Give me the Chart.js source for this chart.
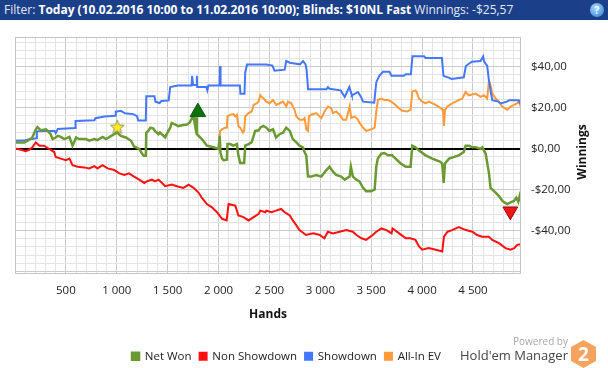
<!DOCTYPE html>
<html lang="en">
<head>
<meta charset="UTF-8" />
<title>Winnings graph</title>
<script src="https://cdn.jsdelivr.net/npm/chart.js@4.4.1/dist/chart.umd.min.js"></script>
<style>
  html, body { margin: 0; padding: 0; background: #fff; overflow: hidden; }
  body { width: 608px; height: 368px; position: relative; font-family: 'Open Sans', sans-serif; }
  #filter { position: absolute; left: 0; top: 0; width: 608px; height: 20px; background: #1c3f8a; color: #fff;
            font-size: 12px; line-height: 20px; white-space: nowrap; }
  #filter .txt { position: absolute; left: 4px; top: 0; }
  #filter .lbl { color: #e4eaf4; }
  #help { position: absolute; right: 4px; top: 3px; width: 14px; height: 14px; border-radius: 50%;
          background: radial-gradient(circle at 40% 35%, #a8d8ff, #2c7ad2); color: #fff; font-size: 10px;
          font-weight: bold; line-height: 14px; text-align: center; }
  #wrap { position: absolute; left: 0; top: 20px; width: 608px; height: 348px; }
  #powered { position: absolute; left: 470px; top: 334px; width: 98px; text-align: right; font-size: 10px; color: #a8a8a8; }
  #hem { position: absolute; left: 440px; top: 346px; width: 128px; text-align: right; font-size: 13px; color: #444; }
  #hex { position: absolute; left: 571px; top: 340px; }
</style>
</head>
<body>
  <div id="filter">
    <span class="txt"><span class="lbl">Filter: </span><b>Today (10.02.2016 10:00 to 11.02.2016 10:00); Blinds: $10NL Fast</b> <span class="lbl">Winnings: -$25,57</span></span>
    <div id="help">?</div>
  </div>
  <div id="wrap"><canvas id="chart" width="608" height="348"></canvas></div>
  <div id="powered">Powered by</div>
  <div id="hem">Hold'em Manager</div>
  <svg id="hex" width="25" height="28" viewBox="0 0 25 28">
    <polygon points="12.5,0 25,7 25,21 12.5,28 0,21 0,7" fill="#f5a35e"/>
    <text x="12.5" y="21" text-anchor="middle" font-family="'Open Sans', sans-serif" font-weight="bold" font-size="19" fill="#fff">2</text>
  </svg>

<script>
// [hand, $] pairs
const netWon = [[0,3.0],[90,3.0],[125,3.8],[170,5.4],[205,9.4],[220,10.5],[255,8.9],[305,9.4],[320,8.6],[350,7.0],[370,4.6],[400,5.4],[420,6.2],[450,5.7],[485,4.6],[535,5.7],[565,1.4],[580,3.0],[600,5.4],[630,4.6],[695,4.6],[730,3.8],[780,4.6],[810,4.1],[860,5.7],[895,4.6],[975,7.0],[1005,7.8],[1040,6.2],[1090,5.4],[1140,3.8],[1170,1.0],[1220,-0.2],[1250,-2.5],[1265,-3.5],[1285,-3.5],[1290,7.8],[1310,8.6],[1330,10.2],[1360,9.8],[1375,8.6],[1410,7.0],[1425,7.8],[1475,5.4],[1490,7.0],[1525,10.2],[1540,12.5],[1575,11.7],[1605,10.9],[1640,11.4],[1690,11.7],[1720,13.0],[1740,15.0],[1755,15.2],[1770,11.0],[1780,15.2],[1787,7.0],[1820,5.4],[1850,3.8],[1885,1.4],[1920,1.0],[1950,0.6],[2000,-0.2],[2012,6.2],[2018,-1.7],[2035,-4.9],[2050,-5.7],[2082,-5.4],[2088,2.2],[2115,2.2],[2145,1.4],[2180,2.2],[2195,-3.3],[2213,-7.0],[2252,-7.0],[2262,1.4],[2295,2.2],[2325,3.0],[2360,8.6],[2395,8.9],[2410,10.2],[2440,11.0],[2470,10.2],[2500,8.6],[2535,9.4],[2565,5.4],[2600,7.0],[2635,7.8],[2665,10.2],[2700,8.6],[2730,4.6],[2765,3.0],[2795,1.4],[2830,0.6],[2845,-1.7],[2862,-3.3],[2879,-13.7],[2910,-13.7],[2960,-12.9],[3010,-13.7],[3060,-10.5],[3090,-8.9],[3125,-11.3],[3155,-12.9],[3205,-13.7],[3240,-15.2],[3288,-13.7],[3300,-8.9],[3320,-13.7],[3355,-15.2],[3385,-16.0],[3420,-19.2],[3450,-20.8],[3500,-20.8],[3534,-20.0],[3550,-8.9],[3565,-4.9],[3600,-2.5],[3630,-2.2],[3665,-3.3],[3705,-3.3],[3740,-4.9],[3790,-7.3],[3840,-8.9],[3887,-8.9],[3904,1.4],[3935,0.6],[3970,-1.0],[4035,-3.3],[4100,-4.9],[4180,-6.5],[4198,-7.3],[4212,-16.8],[4225,-7.3],[4265,-4.9],[4315,-4.1],[4360,-3.3],[4410,-1.7],[4428,1.4],[4460,1.4],[4495,0.6],[4525,0.6],[4575,-0.2],[4592,0.6],[4625,-2.5],[4657,-12.0],[4673,-19.2],[4725,-21.6],[4755,-23.2],[4790,-25.6],[4837,-27.1],[4870,-26.3],[4903,-25.6],[4926,-24.0],[4945,-26.0],[4958,-23.2],[4970,-25.6]];

const nonShowdown = [[0,0],[60,-0.6],[105,-1.3],[140,-0.6],[170,0.6],[205,3.0],[240,1.4],[285,1.4],[335,-0.2],[385,-1.7],[400,-4.1],[450,-4.9],[500,-5.7],[535,-4.9],[565,-8.1],[615,-8.9],[680,-9.2],[730,-9.7],[780,-8.6],[810,-9.7],[860,-8.1],[910,-9.7],[975,-10.5],[1025,-12.1],[1075,-12.9],[1120,-12.1],[1170,-13.7],[1220,-15.2],[1270,-16.8],[1295,-16.0],[1345,-15.2],[1375,-16.0],[1410,-15.2],[1445,-16.8],[1475,-18.4],[1540,-17.6],[1590,-18.4],[1655,-19.2],[1705,-17.6],[1755,-19.2],[1805,-21.6],[1835,-24.0],[1885,-27.1],[1935,-28.7],[1985,-31.1],[2035,-34.3],[2080,-35.1],[2098,-27.1],[2165,-27.9],[2195,-32.7],[2245,-33.5],[2295,-35.1],[2345,-33.5],[2395,-31.9],[2410,-30.3],[2460,-31.1],[2470,-30.3],[2520,-31.1],[2565,-30.3],[2615,-29.5],[2650,-31.1],[2700,-32.7],[2730,-35.1],[2765,-37.5],[2795,-39.8],[2860,-42.2],[2930,-41.4],[2995,-42.2],[3040,-43.8],[3075,-40.6],[3125,-41.4],[3190,-40.6],[3255,-39.8],[3320,-40.6],[3355,-42.2],[3405,-43.8],[3450,-44.6],[3515,-42.2],[3550,-40.6],[3600,-39.0],[3650,-39.8],[3700,-41.4],[3710,-39.0],[3775,-41.4],[3840,-43.8],[3885,-43.8],[3935,-44.6],[3970,-47.8],[4000,-49.4],[4065,-48.6],[4135,-49.4],[4198,-50.2],[4215,-43.0],[4250,-40.6],[4295,-39.8],[4360,-38.3],[4430,-39.8],[4495,-40.6],[4540,-42.2],[4590,-43.0],[4655,-43.0],[4690,-44.6],[4755,-46.2],[4820,-48.6],[4870,-49.4],[4905,-48.6],[4935,-47.0],[4968,-46.7]];

const showdown = [[0,3.8],[100,4.0],[150,4.5],[210,5.0],[215,8.4],[300,8.6],[390,8.6],[400,7.5],[420,9.5],[590,10.0],[595,13.5],[780,13.8],[790,14.8],[880,15.6],[985,16.0],[990,18.0],[1040,18.4],[1080,17.2],[1160,16.8],[1200,15.8],[1210,13.7],[1285,13.7],[1290,25.5],[1370,25.5],[1380,22.9],[1420,22.2],[1440,23.2],[1510,23.5],[1525,30.0],[1600,30.8],[1735,30.8],[1740,35.5],[1750,31.0],[1785,31.0],[1787,35.5],[1790,30.0],[1880,30.0],[1890,28.4],[1900,30.8],[2010,30.8],[2015,40.3],[2020,30.8],[2210,30.8],[2215,26.8],[2255,26.8],[2262,37.0],[2280,41.0],[2470,41.0],[2530,40.5],[2550,38.0],[2650,38.5],[2665,42.7],[2700,41.9],[2800,41.1],[2830,42.7],[2855,41.1],[2865,38.6],[2880,28.9],[3060,28.9],[3075,30.0],[3090,29.2],[3200,28.4],[3240,25.2],[3285,30.0],[3305,26.8],[3310,26.0],[3370,27.6],[3400,25.2],[3420,22.9],[3530,22.4],[3550,32.4],[3580,35.5],[3615,37.5],[3680,37.5],[3700,35.5],[3820,35.5],[3840,36.3],[3890,36.3],[3905,45.0],[4020,45.0],[4035,44.2],[4195,44.2],[4210,35.5],[4260,34.6],[4290,34.0],[4410,34.8],[4430,40.3],[4460,41.4],[4490,42.4],[4575,42.7],[4600,45.0],[4610,42.4],[4640,40.3],[4655,34.0],[4675,27.6],[4690,23.6],[4750,22.9],[4770,22.0],[4835,22.9],[4855,23.6],[4950,23.6],[4965,22.0]];

// all-in EV runs under net won until the first all-in
const allInEV = [[2000,-0.2],[2016,8.6],[2033,9.4],[2065,10.2],[2082,10.2],[2088,15.7],[2115,16.5],[2147,16.8],[2164,15.7],[2180,16.5],[2196,10.9],[2213,10.2],[2240,7.8],[2252,8.6],[2262,15.7],[2295,17.3],[2327,18.1],[2344,21.3],[2377,22.1],[2393,22.9],[2409,26.0],[2442,24.4],[2469,22.9],[2502,22.1],[2535,23.7],[2567,21.3],[2600,22.1],[2633,22.9],[2666,20.5],[2682,22.9],[2715,22.1],[2747,18.9],[2764,15.7],[2797,14.1],[2829,14.1],[2846,14.9],[2862,9.4],[2879,8.6],[2888,15.7],[2911,16.5],[2960,17.3],[2993,15.7],[3010,14.9],[3042,18.1],[3075,20.5],[3108,19.7],[3124,17.3],[3157,18.1],[3190,16.5],[3223,14.1],[3255,14.1],[3288,20.5],[3304,14.9],[3337,15.7],[3370,14.1],[3386,12.5],[3419,10.2],[3452,8.6],[3501,9.4],[3534,10.2],[3550,18.1],[3566,23.7],[3599,24.4],[3632,23.7],[3665,23.7],[3698,22.9],[3740,21.3],[3773,19.7],[3805,18.4],[3854,18.1],[3887,18.9],[3904,27.9],[3936,28.4],[3953,26.8],[3969,24.4],[4002,22.9],[4035,22.1],[4067,22.9],[4133,21.3],[4182,19.7],[4205,18.9],[4215,11.0],[4225,18.9],[4248,20.5],[4297,22.1],[4329,22.9],[4395,24.4],[4428,27.6],[4460,26.0],[4526,26.8],[4575,25.2],[4608,26.0],[4640,24.4],[4657,33.2],[4673,30.8],[4690,26.8],[4723,24.4],[4755,22.9],[4788,20.5],[4837,18.9],[4870,20.5],[4903,21.3],[4936,22.1],[4952,22.9],[4968,20.5]];

// marker positions: star, top (up triangle), bottom (down triangle)
const starMark = [1005, 10.6];
const highMark = [1797, 17.8];
const lowMark = [4867, -30.6];

const seriesNames = ['Net Won', 'Non Showdown', 'Showdown', 'All-In EV'];
const seriesColors = ['#6b9a33', '#ff1010', '#4477ff', '#ff9a3a'];
const seriesWidths = [2.5, 2, 2, 2];

const handsMin = 0, handsMax = 4972;
const winMin = -61, winMax = 54.5;

function pts(arr) { return arr.map(p => ({ x: p[0], y: p[1] })); }

function handsLabel(v) {
  if (v === 0 || v % 500 !== 0) return '';
  if (v < 1000) return String(v);
  return Math.floor(v / 1000) + ' ' + String(v % 1000).padStart(3, '0');
}
function moneyLabel(v) {
  if (v % 20 !== 0 || v <= -60) return '';
  return (v < 0 ? '-' : '') + '$' + Math.abs(v) + ',00';
}

// filled yellow star for the marker
function makeStar() {
  const c = document.createElement('canvas');
  c.width = 16; c.height = 16;
  const g = c.getContext('2d');
  g.beginPath();
  for (let i = 0; i < 10; i++) {
    const r = i % 2 === 0 ? 7.3 : 3.2;
    const a = -Math.PI / 2 + i * Math.PI / 5;
    g.lineTo(8 + r * Math.cos(a), 8.6 + r * Math.sin(a));
  }
  g.closePath();
  g.fillStyle = '#ffec1c';
  g.fill();
  g.strokeStyle = '#8a8a6a';
  g.lineWidth = 0.9;
  g.stroke();
  return c;
}

const LEGEND_DX = -25, LEGEND_DY = 21;

const extras = {
  id: 'extras',
  afterLayout(chart) {
    const lg = chart.legend;
    lg.left += LEGEND_DX; lg.right += LEGEND_DX;
    lg.top += LEGEND_DY; lg.bottom += LEGEND_DY;
  },
  afterDraw(chart) {
    const { ctx, chartArea: a } = chart;
    ctx.save();
    ctx.strokeStyle = '#c4c4c4';
    ctx.lineWidth = 1;
    ctx.strokeRect(Math.round(a.left) + 0.5, Math.round(a.top) + 0.5,
                   Math.round(a.right - a.left) - 1, Math.round(a.bottom - a.top) - 1);
    ctx.translate(583, 132);
    ctx.rotate(-Math.PI / 2);
    ctx.fillStyle = '#111';
    ctx.font = "bold 12px 'Open Sans', sans-serif";
    ctx.textAlign = 'center';
    ctx.textBaseline = 'middle';
    ctx.fillText('Winnings', 0, 0);
    ctx.restore();
  }
};

Chart.defaults.font.family = "'Open Sans', sans-serif";
Chart.defaults.font.size = 11.5;
Chart.defaults.color = '#222';

const lines = [netWon, nonShowdown, showdown, allInEV].map((d, i) => ({
  label: seriesNames[i],
  data: pts(d),
  borderColor: seriesColors[i],
  backgroundColor: seriesColors[i],
  borderWidth: seriesWidths[i],
  pointRadius: 0,
  tension: 0,
  fill: false
}));

const markers = [
  { label: 'star', data: pts([starMark]), pointStyle: makeStar(), pointRadius: 8 },
  { label: 'high', data: pts([highMark]), pointStyle: 'triangle', pointRadius: 9,
    backgroundColor: '#0f700f', borderColor: '#0b5a0b', borderWidth: 1 },
  { label: 'low', data: pts([lowMark]), pointStyle: 'triangle', rotation: 180, pointRadius: 8.5,
    backgroundColor: '#ee1515', borderColor: '#9a0000', borderWidth: 1 }
].map(m => Object.assign({ showLine: false, order: -1 }, m));

new Chart(document.getElementById('chart'), {
  type: 'line',
  data: { datasets: lines.concat(markers) },
  plugins: [extras],
  options: {
    responsive: false,
    animation: false,
    events: [],
    layout: { padding: { left: 15, right: 0, top: 13, bottom: 17 } },
    plugins: {
      tooltip: { enabled: false },
      legend: {
        position: 'bottom',
        labels: {
          boxWidth: 7, boxHeight: 7, padding: 8, color: '#222',
          font: { size: 11.5 },
          filter: item => item.datasetIndex < 4
        }
      }
    },
    scales: {
      x: {
        type: 'linear',
        min: handsMin, max: handsMax,
        afterFit: s => { s.height = 48; },
        border: { display: false },
        grid: {
          drawTicks: false,
          color: c => (c.tick.value % 500 === 0 ? '#cbcbcb' : '#e4e4e4'),
          lineWidth: 1
        },
        ticks: {
          stepSize: 100, includeBounds: false, autoSkip: false, maxRotation: 0,
          padding: 10, color: '#222', callback: handsLabel
        },
        title: { display: true, text: 'Hands', color: '#111', font: { weight: 'bold', size: 12 }, padding: { top: 0, bottom: 0 } }
      },
      y: {
        position: 'right',
        min: winMin, max: winMax,
        afterFit: s => { s.width = 87; },
        border: { display: false },
        grid: {
          drawTicks: false,
          color: c => (c.tick.value === 0 ? '#000' : c.tick.value % 20 === 0 ? '#cbcbcb' : '#e4e4e4'),
          lineWidth: c => (c.tick.value === 0 ? 2 : 1)
        },
        ticks: {
          stepSize: 4, includeBounds: false, autoSkip: false,
          padding: 10, color: '#222', callback: moneyLabel
        }
      }
    }
  }
});
</script>
</body>
</html>
